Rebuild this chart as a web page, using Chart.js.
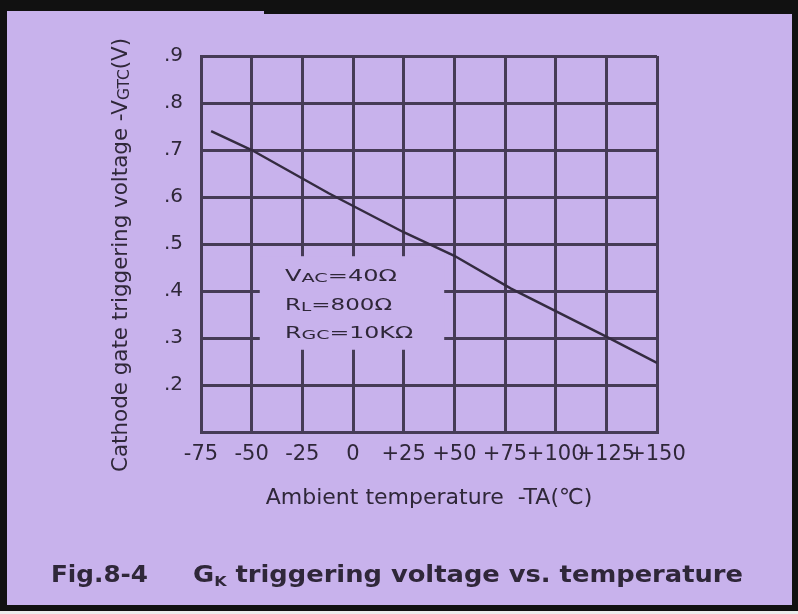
<!DOCTYPE html>
<html>
<head>
<meta charset="utf-8">
<script src="https://cdn.jsdelivr.net/npm/chart.js@4"></script>
<style>
  html, body { margin: 0; padding: 0; background: #ececec; }
  #page { position: relative; width: 798px; height: 614px; overflow: hidden; }
  #frame { position: absolute; left: 0; top: 0; width: 798px; height: 611px; background: #111; }
  #paper { position: absolute; left: 7px; top: 11px; width: 785px; height: 594px; background: #c8b2ec; }
  #step { position: absolute; left: 264px; top: 11px; width: 528px; height: 3px; background: #111; }
  #c { position: absolute; left: 0; top: 0; }
</style>
</head>
<body>
<div id="page">
  <div id="frame"></div>
  <div id="paper"></div>
  <div id="step"></div>
  <canvas id="c" width="798" height="614"></canvas>
</div>
<script>
// ---- data ----
const tempValues   = [-70, -50, -12, 25, 50, 78, 124, 150];
const voltValues   = [0.74, 0.70, 0.608, 0.525, 0.475, 0.405, 0.305, 0.247];
const xTickValues  = [-75, -50, -25, 0, 25, 50, 75, 100, 125, 150];
const xTickLabels  = ['-75', '-50', '-25', '0', '+25', '+50', '+75', '+100', '+125', '+150'];
const yTickValues  = [0.1, 0.2, 0.3, 0.4, 0.5, 0.6, 0.7, 0.8, 0.9];
const yTickLabels  = ['', '.2', '.3', '.4', '.5', '.6', '.7', '.8', '.9'];
const xTitle       = 'Ambient temperature  -TA(\u2103)';
const yTitleParts  = [{t: 'Cathode gate triggering voltage -V'}, {t: 'GTC', sub: true}, {t: '(V)'}];
const noteLines    = [
  [{t: 'V'}, {t: 'AC', sub: true}, {t: '=40\u03A9'}],
  [{t: 'R'}, {t: 'L', sub: true}, {t: '=800\u03A9'}],
  [{t: 'R'}, {t: 'GC', sub: true}, {t: '=10K\u03A9'}]
];
const captionNum   = 'Fig.8-4';
const captionParts = [{t: 'G'}, {t: 'K', sub: true}, {t: ' triggering voltage vs. temperature'}];

const points = tempValues.map((x, i) => ({x: x, y: voltValues[i]}));

const INK = '#2f2739';
const GRID = '#463b56';
const FAM = '"DejaVu Sans", "Liberation Sans", Arial, sans-serif';

function lookup(vals, labels, v) {
  const i = vals.findIndex(a => Math.abs(a - v) < 1e-6);
  return i >= 0 ? labels[i] : '';
}

function drawRich(ctx, segs, o) {
  const fontFor = s => `${o.weight || 'normal'} ${s.sub ? o.size * (o.subScale || 0.75) : o.size}px ${FAM}`;
  const widths = segs.map(s => { ctx.font = fontFor(s); return ctx.measureText(s.t).width; });
  const total = widths.reduce((a, b) => a + b, 0);
  const sx = o.width ? o.width / total : 1;
  ctx.save();
  ctx.translate(o.x, o.y);
  if (o.rotate) ctx.rotate(o.rotate);
  ctx.scale(sx, 1);
  let cx = o.align === 'center' ? -total / 2 : 0;
  ctx.fillStyle = o.color || INK;
  ctx.textAlign = 'left';
  ctx.textBaseline = 'alphabetic';
  segs.forEach((s, i) => {
    ctx.font = fontFor(s);
    ctx.fillText(s.t, cx, s.sub ? (o.subDy || 0) : 0);
    cx += widths[i];
  });
  ctx.restore();
}

const textPlugin = {
  id: 'texts',
  beforeDatasetsDraw(chart) {
    const {ctx, scales: {x, y}} = chart;
    // cleared area behind the condition note
    const l = x.getPixelForValue(-46), r = x.getPixelForValue(45);
    const t = y.getPixelForValue(0.474), b = y.getPixelForValue(0.275);
    ctx.save();
    ctx.fillStyle = '#c8b2ec';
    ctx.fillRect(l, t, r - l, b - t);
    ctx.restore();
  },
  afterDraw(chart) {
    const {ctx, chartArea: a} = chart;
    // y-axis title
    drawRich(ctx, yTitleParts, {x: 127, y: 255, size: 21, rotate: -Math.PI / 2, align: 'center',
      width: 434, subScale: 0.72, subDy: 2});
    // condition note
    const nx = a.left + 84;
    const widths = [112, 107, 128];
    const bases = [281, 310, 338];
    noteLines.forEach((segs, i) => {
      drawRich(ctx, segs, {x: nx, y: bases[i], size: 15, width: widths[i], subScale: 0.8, subDy: 0.5});
    });
    // caption
    drawRich(ctx, [{t: captionNum}], {x: 51, y: 582, size: 23, weight: 'bold', width: 97});
    drawRich(ctx, captionParts, {x: 193, y: 582, size: 23, weight: 'bold', width: 550, subScale: 0.62, subDy: 4});
  }
};

new Chart(document.getElementById('c'), {
  type: 'scatter',
  data: {
    datasets: [{
      data: points,
      showLine: true,
      borderColor: '#342b40',
      borderWidth: 2.5,
      pointRadius: 0,
      tension: 0
    }]
  },
  options: {
    responsive: false,
    animation: false,
    events: [],
    layout: {padding: {left: 0, right: 141, top: 56, bottom: 0}},
    plugins: {legend: {display: false}, tooltip: {enabled: false}},
    scales: {
      x: {
        type: 'linear',
        min: -75, max: 150,
        afterFit: s => { s.height = 182; },
        afterBuildTicks: s => { s.ticks = xTickValues.map(v => ({value: v})); },
        ticks: {
          autoSkip: false, maxRotation: 0, minRotation: 0, padding: 10,
          color: INK, font: {family: FAM, size: 21},
          callback: v => lookup(xTickValues, xTickLabels, v)
        },
        grid: {color: GRID, lineWidth: 3, drawTicks: false},
        border: {display: true, color: GRID, width: 3},
        title: {display: true, text: xTitle, color: INK, font: {family: FAM, size: 22},
          padding: {top: 0, bottom: 103}}
      },
      y: {
        type: 'linear',
        min: 0.1, max: 0.9,
        afterFit: s => { s.width = 201; },
        afterBuildTicks: s => { s.ticks = yTickValues.map(v => ({value: v})); },
        ticks: {
          autoSkip: false, padding: 18,
          color: INK, font: {family: FAM, size: 20},
          callback: v => lookup(yTickValues, yTickLabels, v)
        },
        grid: {color: GRID, lineWidth: 3, drawTicks: false},
        border: {display: true, color: GRID, width: 3}
      }
    }
  },
  plugins: [textPlugin]
});
</script>
</body>
</html>
